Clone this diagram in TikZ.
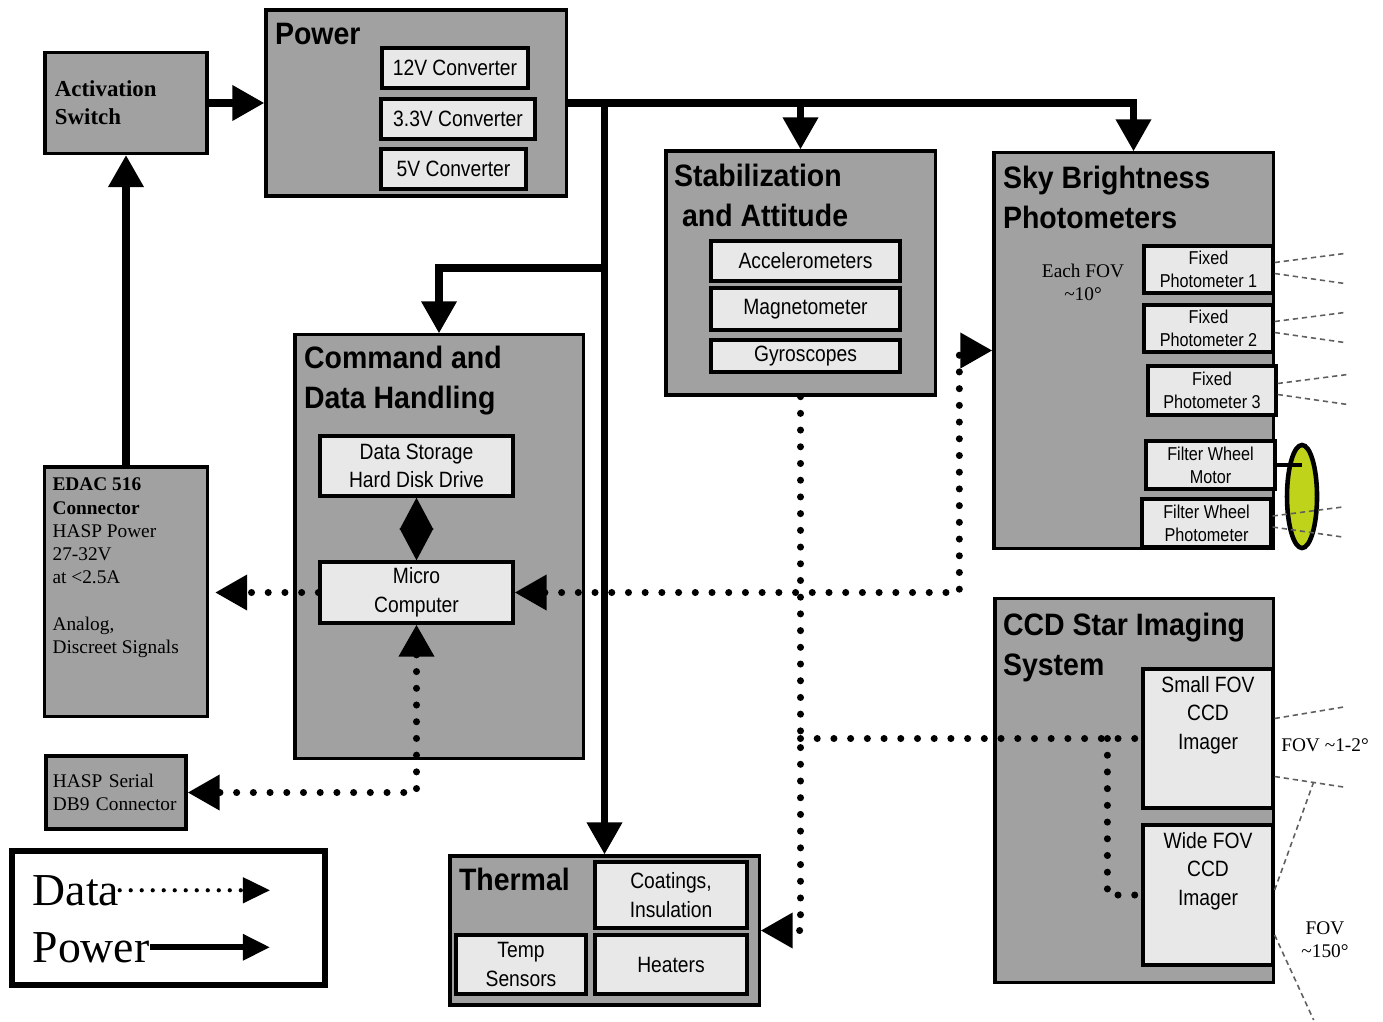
\documentclass[tikz,border=0pt]{standalone}
\usepackage{fontspec}
\setmainfont{Liberation Serif}
\newfontfamily\headfont[FakeStretch=0.92]{Liberation Sans}
\newfontfamily\partfont[FakeStretch=0.87]{Liberation Sans}
\definecolor{boxgray}{RGB}{161, 161, 161}
\definecolor{partgray}{RGB}{232, 232, 232}
\definecolor{wheelgreen}{RGB}{190, 211, 25}
\definecolor{raygray}{RGB}{95, 95, 95}
\usetikzlibrary{arrows.meta, calc, positioning, shapes}

\tikzset{
	sysbox/.style = {draw, line width = 0.9pt, fill = boxgray, inner sep = 0pt},
	parttxt/.style = {inner sep = 0pt, align = center, font = \partfont\fontsize{6.3pt}{8.1pt}\selectfont},
	partbox/.style = {parttxt, draw, line width = 0.9pt, fill = partgray},
	smallpart/.style = {partbox, font = \partfont\fontsize{5.3pt}{6.5pt}\selectfont},
	headtxt/.style = {inner sep = 0pt, align = left, font = \headfont\bfseries\fontsize{8.8pt}{11.5pt}\selectfont},
	notetxt/.style = {inner sep = 0pt, align = center, font = \fontsize{5.5pt}{6.6pt}\selectfont},
	powerline/.style = {line width = 2pt},
	dataline/.style = {line width = 2pt, line cap = round, dash pattern = on 0pt off 0.167cm},
	rayline/.style = {raygray, line width = 0.45pt, dash pattern = on 1.5pt off 1.1pt},
}

\begin{document}
\begin{tikzpicture}[x = 0.01cm, y = -0.01cm, >={Triangle[length = 0.32cm, width = 0.34cm]}]
	\useasboundingbox (0, 0) rectangle (1383, 1021);

	\node[sysbox, minimum width = 1.62cm, minimum height = 1.01cm, text width = 1.42cm, align = left, font = \bfseries\fontsize{6.5pt}{8pt}\selectfont] (act) at (126, 103) {Activation\\Switch};

	\node[sysbox, minimum width = 3cm, minimum height = 1.86cm] (power) at (416, 103) {};
	\node[headtxt, below right = 0.14cm and 0.10cm of power.north west] (powerT) {Power};
	\node[partbox, minimum width = 1.46cm, minimum height = 0.40cm] (c12) at (455, 68) {12V Converter};
	\node[partbox, minimum width = 1.54cm, minimum height = 0.40cm] (c33) at (458, 119) {3.3V Converter};
	\node[partbox, minimum width = 1.45cm, minimum height = 0.40cm] (c5) at (453.5, 169) {5V Converter};

	\node[sysbox, minimum width = 2.69cm, minimum height = 2.44cm] (stab) at (800.5, 273) {};
	\node[headtxt, below right = 0.14cm and 0.09cm of stab.north west] (stabT) {Stabilization\\\hspace*{0.08cm}and Attitude};
	\node[partbox, minimum width = 1.89cm, minimum height = 0.40cm] (acc) at (805.5, 261) {Accelerometers};
	\node[partbox, minimum width = 1.89cm, minimum height = 0.42cm] (mag) at (805.5, 309) {Magnetometer};
	\node[partbox, minimum width = 1.89cm, minimum height = 0.32cm] (gyro) at (805.5, 356) {Gyroscopes};

	\node[sysbox, minimum width = 2.79cm, minimum height = 3.95cm] (sky) at (1133.5, 350.5) {};
	\node[headtxt, below right = 0.14cm and 0.10cm of sky.north west] (skyT) {Sky Brightness\\Photometers};
	\node[notetxt] (eachFov) at (1083, 282) {Each FOV\\\textasciitilde10°};
	\node[smallpart, minimum width = 1.29cm, minimum height = 0.47cm] (fp1) at (1208.5, 269.5) {Fixed\\Photometer 1};
	\node[smallpart, minimum width = 1.29cm, minimum height = 0.47cm] (fp2) at (1208.5, 328.5) {Fixed\\Photometer 2};
	\node[smallpart, minimum width = 1.28cm, minimum height = 0.49cm] (fp3) at (1212, 390.5) {Fixed\\Photometer 3};
	\node[smallpart, minimum width = 1.29cm, minimum height = 0.48cm] (fwm) at (1210.5, 465) {Filter Wheel\\Motor};
	\node[smallpart, minimum width = 1.29cm, minimum height = 0.48cm] (fwp) at (1206.5, 523) {Filter Wheel\\Photometer};
	\node[ellipse, draw, line width = 1.3pt, fill = wheelgreen, minimum width = 0.30cm, minimum height = 1.03cm, inner sep = 0pt] (wheel) at (1302, 496.5) {};

	\node[sysbox, minimum width = 2.78cm, minimum height = 3.83cm] (ccd) at (1134, 790.5) {};
	\node[headtxt, below right = 0.15cm and 0.09cm of ccd.north west] (ccdT) {CCD Star Imaging\\System};
	\node[partbox, minimum width = 1.30cm, minimum height = 1.39cm] (small) at (1208, 738.5) {};
	\node[parttxt, below = 0.08cm of small.north] (smallT) {Small FOV\\CCD\\Imager};
	\node[partbox, minimum width = 1.30cm, minimum height = 1.40cm] (wide) at (1208, 895) {};
	\node[parttxt, below = 0.08cm of wide.north] (wideT) {Wide FOV\\CCD\\Imager};
	\node[notetxt] (fovSmall) at (1325, 745) {FOV \textasciitilde1-2°};
	\node[notetxt] (fovWide) at (1325, 940) {FOV\\\textasciitilde150°};

	\node[sysbox, minimum width = 2.88cm, minimum height = 4.23cm] (cdh) at (439, 546.5) {};
	\node[headtxt, below right = 0.12cm and 0.10cm of cdh.north west] (cdhT) {Command and\\Data Handling};
	\node[partbox, minimum width = 1.93cm, minimum height = 0.60cm] (ds) at (416.5, 466) {Data Storage\\Hard Disk Drive};
	\node[partbox, minimum width = 1.93cm, minimum height = 0.61cm] (mc) at (416.5, 592.5) {Micro\\Computer};

	\node[sysbox, minimum width = 1.63cm, minimum height = 2.49cm] (edac) at (126, 591.5) {};
	\node[notetxt, align = left, below right = 0.12cm and 0.09cm of edac.north west] (edacT) {\textbf{EDAC 516}\\\textbf{Connector}\\HASP Power\\27-32V\\at <2.5A\\[6.6pt]Analog,\\Discreet Signals};
	\node[sysbox, minimum width = 1.40cm, minimum height = 0.73cm, text width = 1.26cm, align = left, font = \fontsize{5.5pt}{6.6pt}\selectfont] (hasp) at (116, 792.5) {HASP Serial\\DB9 Connector};

	\node[sysbox, minimum width = 3.09cm, minimum height = 1.49cm] (therm) at (604.5, 930.5) {};
	\node[headtxt, below right = 0.13cm and 0.10cm of therm.north west] (thermT) {Thermal};
	\node[partbox, minimum width = 1.52cm, minimum height = 0.66cm] (coat) at (671, 895) {Coatings,\\Insulation};
	\node[partbox, minimum width = 1.30cm, minimum height = 0.59cm] (temp) at (521, 964.5) {Temp\\Sensors};
	\node[partbox, minimum width = 1.52cm, minimum height = 0.59cm] (heat) at (671, 964.5) {Heaters};

	\node[draw, line width = 1.5pt, fill = white, minimum width = 3.13cm, minimum height = 1.34cm] (key) at (168.5, 918) {};
	\node[anchor = base west, inner sep = 0pt, font = \fontsize{13pt}{13pt}\selectfont] (keyData) at (32, 905) {Data};
	\node[anchor = base west, inner sep = 0pt, font = \fontsize{13pt}{13pt}\selectfont] (keyPower) at (32, 962) {Power};
	\coordinate (keyEnd) at (270, 0);

	\draw[line width = 1.2pt, line cap = round, dash pattern = on 0pt off 0.11cm, -{Triangle[length = 0.27cm, width = 0.25cm]}] (keyData.east) -- (keyData.east -| keyEnd);
	\draw[line width = 1.7pt, -{Triangle[length = 0.27cm, width = 0.25cm]}] (keyPower.east) -- (keyPower.east -| keyEnd);

	\coordinate (busCdh) at (therm.north |- 0, 268);
	\draw[powerline, ->] (act) -- (power);
	\draw[powerline, ->] (edac) -- (act);
	\draw[powerline, ->] (power.east) -| (sky.north);
	\draw[powerline, ->] (power.east -| stab.north) -- (stab.north);
	\draw[powerline, ->] (power.east -| therm.north) -- (therm.north);
	\draw[powerline, ->] (busCdh) -| (cdh.north);

	\draw[dataline, <->] (mc.east) -| ($(sky.west) + (-33, 0)$) -- (sky.west);
	\draw[dataline, ->, shorten > = 0.06cm] (mc.west) -- (mc.west -| edac.east);
	\draw[dataline, <->] (mc.south) |- (hasp.east);
	\draw[dataline, ->] (stab.south) |- (therm.east);
	\draw[dataline] (small.west -| stab.south) -- (small.west);
	\draw[dataline] ($(small.west) + (-34, 0)$) |- (wide.west);
	\draw[line width = 1pt, {Triangle[length = 0.32cm, width = 0.33cm]}-{Triangle[length = 0.32cm, width = 0.33cm]}] (ds) -- (mc);

	\draw[line width = 1.4pt] (fwm.east) -- (fwm.east -| wheel.center);
	\foreach \p in {fp1, fp2, fp3, fwp} {
		\draw[rayline] ($(\p.east) + (0, -7)$) -- +(70, -9);
		\draw[rayline] ($(\p.east) + (0, 4)$) -- +(70, 10);
	}
	\draw[rayline] ($(small.east) + (0, -20)$) -- +(72, -12);
	\draw[rayline] ($(small.east) + (0, 38)$) -- +(72, 11);
	\draw[rayline] ($(wide.east) + (0, -5)$) -- +(39, -108);
	\draw[rayline] ($(wide.east) + (0, 40)$) -- +(39, 85);
\end{tikzpicture}
\end{document}
